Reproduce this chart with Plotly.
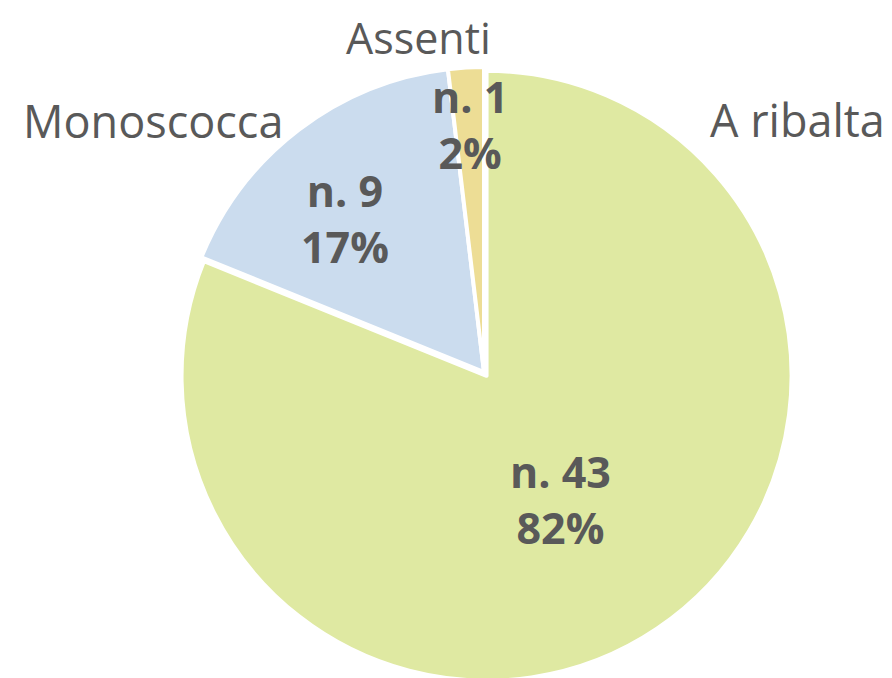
import plotly.graph_objects as go

# ---- data ----
categories = ["A ribalta", "Monoscocca", "Assenti"]
counts = [43, 9, 1]
percent_labels = ["82%", "17%", "2%"]
count_labels = ["n. 43", "n. 9", "n. 1"]

# ---- style ----
colors = ["#DFE9A2", "#CBDCEE", "#EDDD95"]
text_color = "#595959"
W, H = 892, 678
FONT = "Open Sans"
OFF = 8  # default page body margin offsets the figure by this many pixels

# pie geometry (page pixels -> figure pixels)
PULL = 0.015
cx, cy = 484 - OFF, 372 - OFF
R = 305 * (1 + PULL)
bottom = H - (cy + R)
dom_x = [(cx - R) / W, (cx + R) / W]
dom_y = [bottom / H, (bottom + 2 * R) / H]

fig = go.Figure(go.Pie(
    labels=categories,
    values=counts,
    sort=False,
    direction="clockwise",
    rotation=0,
    pull=[PULL, 0, 0],
    marker=dict(colors=colors, line=dict(color="white", width=4)),
    textinfo="none",
    hoverinfo="label+value",
    showlegend=False,
    domain=dict(x=dom_x, y=dom_y),
))

# label placement (page pixel centres) – layout only
cat_pos = [(797, 119), (153, 120), (418, 38)]
cat_size = [45, 45, 43]
val_pos = [(560, 499), (345, 218), (470, 125)]

def px(x, y):
    return (x - OFF) / W, 1 - (y - OFF) / H

ann = []
for i in range(len(categories)):
    x, y = px(*cat_pos[i])
    ann.append(dict(text=categories[i], x=x, y=y, xref="paper", yref="paper",
                    xanchor="center", yanchor="middle", showarrow=False,
                    font=dict(family=FONT, size=cat_size[i], color=text_color)))
    x, y = px(*val_pos[i])
    ann.append(dict(text="<b>%s</b><br><b>%s</b>" % (count_labels[i], percent_labels[i]),
                    x=x, y=y, xref="paper", yref="paper",
                    xanchor="center", yanchor="middle", showarrow=False, align="center",
                    font=dict(family=FONT, size=43, color=text_color)))

fig.update_layout(
    width=W, height=H,
    margin=dict(l=0, r=0, t=0, b=0),
    paper_bgcolor="white", plot_bgcolor="white",
    annotations=ann,
)

fig.write_html("out.html")
